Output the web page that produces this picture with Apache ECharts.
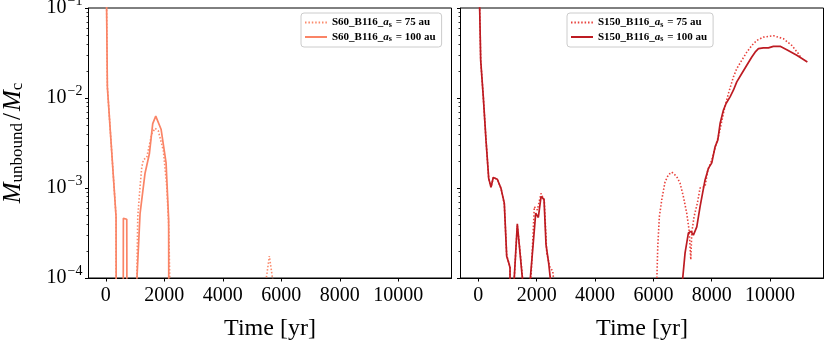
<!DOCTYPE html>
<html>
<head>
<meta charset="utf-8">
<script src="https://cdn.jsdelivr.net/npm/echarts@6/dist/echarts.min.js"></script>
<style>
  html, body { margin: 0; padding: 0; background: #fff; }
</style>
</head>
<body>
<div id="chart" style="width: 830px; height: 343px;"></div>
<script>
// values; 1e-30 stands for "zero" (falls off the log axis)
const Z = 1e-30;

// left panel: S60_B116
const tL75 = [0, 55, 352, 480, 1000, 1060, 1094, 1173, 1231, 1286, 1402, 1573, 1686, 1798, 1969, 2085, 2154, 2190, 2300, 5400, 5480, 5593, 5709, 5800, 11240];
const vL75 = [1.0, 0.0133, 4.8e-4, Z, Z, 9e-5, 4.8e-4, 1.04e-3, 1.7e-3, 2.05e-3, 2.2e-3, 4.0e-3, 4.6e-3, 4.3e-3, 2.6e-3, 1.04e-3, 3.7e-4, 9e-5, Z, Z, 9.5e-5, 1.75e-4, 9.5e-5, Z, Z];
const tL100 = [0, 55, 352, 480, 602, 718, 890, 1060, 1173, 1343, 1491, 1606, 1709, 1891, 2062, 2150, 2300, 11240];
const vL100 = [1.0, 0.0133, 4.8e-4, Z, 4.6e-4, 4.5e-4, Z, 9e-5, 5.2e-4, 1.46e-3, 2.4e-3, 5.2e-3, 6.3e-3, 4.5e-3, 1.9e-3, 4.5e-4, Z, Z];

// right panel: S150_B116
const tR75 = [0, 82, 171, 264, 356, 435, 514, 651, 778, 891, 973, 1063, 1087, 1150, 1224, 1337, 1430, 1530, 1650, 1800, 1920, 2023, 2150, 2195, 2262, 2345, 2458, 2550, 2590, 2700,
  6050, 6116, 6150, 6205, 6287, 6400, 6514, 6630, 6800, 6915, 7029, 7143, 7224, 7282, 7316, 7394, 7508, 7600, 7771, 7864, 8001, 8115, 8252, 8423, 8571, 8742, 8858, 9030, 9201, 9373, 9544, 9770, 10113, 10456, 10743, 10970, 11040];
const vR75 = [0.6, 0.0263, 0.0103, 3.4e-3, 1.28e-3, 1.02e-3, 1.31e-3, 1.25e-3, 9.9e-4, 6.6e-4, 1.8e-4, 1.4e-4, 1.3e-4, Z, 9e-5, 3.8e-4, 2.0e-4, 9e-5, Z, 9e-5, 6.2e-4, 5.7e-4, 8.7e-4, 9e-4, 7.2e-4, 1.9e-4, 1.3e-4, 1.2e-4, 9e-5, Z,
  Z, 9e-5, 2.24e-4, 4.8e-4, 7.4e-4, 1.17e-3, 1.4e-3, 1.5e-3, 1.34e-3, 1.13e-3, 8.0e-4, 5.25e-4, 3.4e-4, 1.6e-4, 3.2e-4, 4.8e-4, 6.8e-4, 1.0e-3, 1.04e-3, 1.58e-3, 2.04e-3, 2.8e-3, 4.0e-3, 7.3e-3, 0.0112, 0.0171, 0.0212, 0.0263, 0.0323, 0.0384, 0.0436, 0.0475, 0.0492, 0.0456, 0.0384, 0.0311, 0.0285];
const tR100 = [0, 82, 171, 264, 356, 435, 514, 651, 778, 891, 973, 1063, 1087, 1150, 1224, 1337, 1430, 1522, 1650, 1772, 1968, 2057, 2150, 2252, 2321, 2413, 2482, 2600,
  6900, 6993, 7086, 7199, 7282, 7371, 7487, 7600, 7771, 7885, 8001, 8115, 8207, 8286, 8399, 8491, 8628, 8742, 8858, 9030, 9201, 9373, 9486, 9600, 9770, 9942, 10113, 10343, 10572, 10915, 11277];
const vR100 = [0.6, 0.0263, 0.0103, 3.4e-3, 1.28e-3, 1.02e-3, 1.31e-3, 1.25e-3, 9.9e-4, 6.8e-4, 1.74e-4, 1.4e-4, 1.3e-4, Z, 9e-5, 4.0e-4, 1.9e-4, 9e-5, Z, 9e-5, 5.25e-4, 4.7e-4, 8.0e-4, 7.5e-4, 2.35e-4, 1.45e-4, 9e-5, Z,
  Z, 9e-5, 1.9e-4, 3.16e-4, 3.3e-4, 3.0e-4, 3.7e-4, 6.2e-4, 1.23e-3, 1.65e-3, 1.9e-3, 2.87e-3, 3.4e-3, 5.2e-3, 7.3e-3, 8.7e-3, 0.0103, 0.0122, 0.0151, 0.0187, 0.0231, 0.0285, 0.0323, 0.0353, 0.0361, 0.0361, 0.0375, 0.0375, 0.0344, 0.0298, 0.0251];

const xTicks = [0, 2000, 4000, 6000, 8000, 10000];
const legendLabels = {
  L75: ['S60_B116_', 'a', 's', ' = 75 au'],
  L100: ['S60_B116_', 'a', 's', ' = 100 au'],
  R75: ['S150_B116_', 'a', 's', ' = 75 au'],
  R100: ['S150_B116_', 'a', 's', ' = 100 au']
};

const serif = "'Liberation Serif', 'DejaVu Serif', serif";
const zip = (t, v) => t.map((x, i) => [x, v[i]]);

// minor log ticks, in log10 space for the overlay axis
const minorExp = [];
for (let d = -4; d < -1; d++) {
  for (let k = 2; k <= 9; k++) minorExp.push(d + Math.log10(k));
}

const chart = echarts.init(document.getElementById('chart'), null, { renderer: 'canvas' });

const grids = [
  { left: 88.5, top: 8, width: 363, height: 270 },
  { left: 460.5, top: 8, width: 363, height: 270 }
].map(g => Object.assign(g, { show: true, borderColor: '#000', borderWidth: 1, backgroundColor: 'transparent', outerBoundsMode: 'none' }));

const xAxisFor = (gi, min, max) => ({
  type: 'value', gridIndex: gi, min: min, max: max,
  name: 'Time [yr]', nameLocation: 'middle', nameGap: 39,
  nameTextStyle: { fontFamily: serif, fontSize: 24, color: '#000' },
  axisLine: { show: true, onZero: false, lineStyle: { color: '#000', width: 1 } },
  axisTick: { show: true, length: 3.5, inside: false, customValues: xTicks, lineStyle: { color: '#000', width: 1 } },
  axisLabel: { show: true, customValues: xTicks, margin: 8, formatter: v => String(v), fontFamily: serif, fontSize: 20, color: '#000' },
  splitLine: { show: false }
});

const supFmt = v => '{b|10}{s|\u2212' + Math.abs(Math.round(Math.log10(v))) + '}';

const yMain = (gi, showLabel) => ({
  type: 'log', logBase: 10, gridIndex: gi, min: 1e-4, max: 1e-1, position: 'left',
  axisLine: { show: true, onZero: false, lineStyle: { color: '#000', width: 1 } },
  axisTick: { show: true, length: 3.5, lineStyle: { color: '#000', width: 1 } },
  axisLabel: {
    show: showLabel, margin: 6, formatter: supFmt,
    rich: {
      b: { fontFamily: serif, fontSize: 20, color: '#000' },
      s: { fontFamily: serif, fontSize: 14, color: '#000', padding: [0, 0, 14, 1] }
    }
  },
  splitLine: { show: false }
});

const yMinor = gi => ({
  type: 'value', gridIndex: gi, min: -4, max: -1, position: 'left',
  axisLine: { show: false, onZero: false },
  axisTick: { show: true, length: 2, customValues: minorExp, lineStyle: { color: '#000', width: 0.8 } },
  axisLabel: { show: false },
  splitLine: { show: false }
});

const yAxes = [yMain(0, true), yMinor(0), yMain(1, false), yMinor(1)];
yAxes[0].name = '{m|M}{u|unbound}{sl|/}{m|M}{u|c}';
yAxes[0].nameLocation = 'middle';
yAxes[0].nameGap = 62;
yAxes[0].nameTextStyle = {
  rich: {
    m: { fontFamily: serif, fontStyle: 'italic', fontSize: 25, color: '#000' },
    u: { fontFamily: serif, fontSize: 17, color: '#000', padding: [10, 0, 0, 0] },
    sl: { fontFamily: serif, fontSize: 25, color: '#000', padding: [0, 2, 0, 3] }
  }
};

const lineSeries = (name, xi, yi, data, color, dotted) => ({
  name: name, type: 'line', xAxisIndex: xi, yAxisIndex: yi,
  data: data, symbol: 'none', showSymbol: false, smooth: false, clip: true,
  lineStyle: { color: color, width: dotted ? 1.6 : 1.7, type: dotted ? [1.5, 1.9] : 'solid', cap: 'butt' },
  itemStyle: { color: color },
  emphasis: { disabled: true },
  z: dotted ? 2 : 3
});

const salmon = '#fa8466';
const salmonDot = '#fb8a6c';
const darkRed = '#bd1b22';
const redDot = '#e8423c';

const legendText = {
  fontFamily: serif, fontSize: 11, fontWeight: 'bold', color: '#000',
  rich: {
    b: { fontFamily: serif, fontSize: 11, fontWeight: 'bold', color: '#000' },
    i: { fontFamily: serif, fontSize: 11, fontStyle: 'italic', fontWeight: 'bold', color: '#000' },
    u: { fontFamily: serif, fontSize: 8, fontWeight: 'bold', color: '#000', padding: [4, 1, 0, 0] }
  }
};
const legendFmt = name => {
  const p = legendLabels[name];
  return '{b|' + p[0] + '}{i|' + p[1] + '}{u|' + p[2] + '}{b|' + p[3] + '}';
};
const legendFor = (names, left) => ({
  data: names, left: left, top: 13, orient: 'vertical',
  itemWidth: 22, itemHeight: 10, itemGap: 3,
  padding: [4, 6, 4, 3],
  backgroundColor: 'rgba(255,255,255,0.8)',
  borderColor: '#cccccc', borderWidth: 1, borderRadius: 3,
  itemStyle: { opacity: 0 },
  textStyle: legendText, formatter: legendFmt,
  selectedMode: false
});

chart.setOption({
  animation: false,
  backgroundColor: '#fff',
  grid: grids,
  xAxis: [xAxisFor(0, -590, 11820), xAxisFor(1, -610, 11830)],
  yAxis: yAxes,
  legend: [legendFor(['L75', 'L100'], 301), legendFor(['R75', 'R100'], 567)],
  series: [
    lineSeries('L75', 0, 0, zip(tL75, vL75), salmonDot, true),
    lineSeries('L100', 0, 0, zip(tL100, vL100), salmon, false),
    lineSeries('R75', 1, 2, zip(tR75, vR75), redDot, true),
    lineSeries('R100', 1, 2, zip(tR100, vR100), darkRed, false)
  ]
});
</script>
</body>
</html>
